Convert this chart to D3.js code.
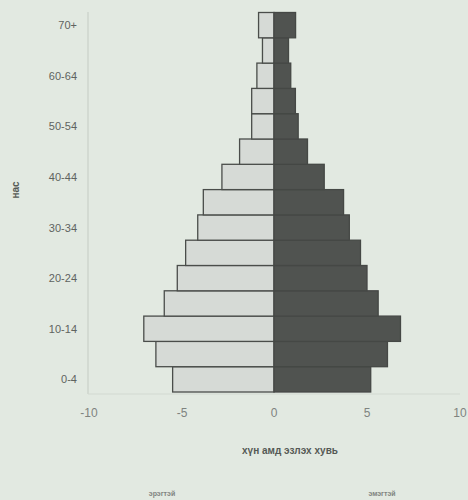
<!DOCTYPE html>
<html><head><meta charset="utf-8">
<script src="https://cdn.jsdelivr.net/npm/d3@7"></script>
<style>
html,body{margin:0;padding:0;background:#e2e9e1;}
svg{display:block;}
</style></head>
<body>
<svg id="c" width="468" height="500"></svg>
<script>
const ages = ["0-4","5-9","10-14","15-19","20-24","25-29","30-34","35-39","40-44","45-49","50-54","55-59","60-64","65-69","70+"];
const male = [5.45, 6.35, 7.0, 5.9, 5.2, 4.75, 4.1, 3.8, 2.8, 1.85, 1.2, 1.2, 0.92, 0.62, 0.83];
const female = [5.2, 6.1, 6.8, 5.6, 5.0, 4.65, 4.05, 3.74, 2.7, 1.8, 1.3, 1.15, 0.9, 0.78, 1.16];
const yTickLabels = ["0-4","10-14","20-24","30-34","40-44","50-54","60-64","70+"];
const xTicks = [-10,-5,0,5,10];
const xTitle = "хүн амд эзлэх хувь";
const yTitle = "нас";
const legendLabels = ["эрэгтэй","эмэгтэй"];

const svg = d3.select("#c");
const x = d3.scaleLinear().domain([-10,10]).range([88,460]);
const y = d3.scaleBand().domain(ages).range([392,12.5]).padding(0);

const g = svg.append("g");
g.append("line").attr("x1",x(-10)).attr("x2",x(-10)).attr("y1",12).attr("y2",394)
  .attr("stroke","#c4cbc3").attr("stroke-width",1);
g.append("line").attr("x1",x(-10)).attr("x2",x(10)).attr("y1",394).attr("y2",394)
  .attr("stroke","#d2d9d1").attr("stroke-width",1);

const fontFam = "'Liberation Sans', Arial, sans-serif";

svg.append("g").selectAll("text").data(yTickLabels).join("text")
  .attr("x",x(-10)-11).attr("y",d=>y(d)+y.bandwidth()/2+4)
  .attr("text-anchor","end").attr("font-family",fontFam).attr("font-size",11)
  .attr("fill","#5f635f").text(d=>d);

svg.append("g").selectAll("text").data(xTicks).join("text")
  .attr("x",d=>x(d)+(d<0?1:0)).attr("y",417)
  .attr("text-anchor","middle").attr("font-family",fontFam).attr("font-size",12)
  .attr("fill","#7f837f").text(d=>d);

const bars = svg.append("g");
bars.selectAll("rect.m").data(ages).join("rect").attr("class","m")
  .attr("x",(d,i)=>x(-male[i])).attr("y",d=>y(d))
  .attr("width",(d,i)=>x(0)-x(-male[i])).attr("height",y.bandwidth())
  .attr("fill","#d6dad6").attr("stroke","#4a4d4a").attr("stroke-width",1.3);
bars.selectAll("rect.f").data(ages).join("rect").attr("class","f")
  .attr("x",x(0)).attr("y",d=>y(d))
  .attr("width",(d,i)=>x(female[i])-x(0)).attr("height",y.bandwidth())
  .attr("fill","#505350").attr("stroke","#454845").attr("stroke-width",1.3);

svg.append("text").attr("x",290).attr("y",454).attr("text-anchor","middle")
  .attr("font-family",fontFam).attr("font-size",10).attr("font-weight","bold")
  .attr("fill","#555955").text(xTitle);
svg.append("text").attr("transform","translate(19,190) rotate(-90)").attr("text-anchor","middle")
  .attr("font-family",fontFam).attr("font-size",10).attr("font-weight","bold")
  .attr("fill","#555955").text(yTitle);

svg.append("g").selectAll("text").data(legendLabels).join("text")
  .attr("x",(d,i)=>i===0?162:382).attr("y",496).attr("text-anchor","middle")
  .attr("font-family",fontFam).attr("font-size",7).attr("font-weight","bold")
  .attr("fill","#808480").text(d=>d);
</script>
</body></html>
